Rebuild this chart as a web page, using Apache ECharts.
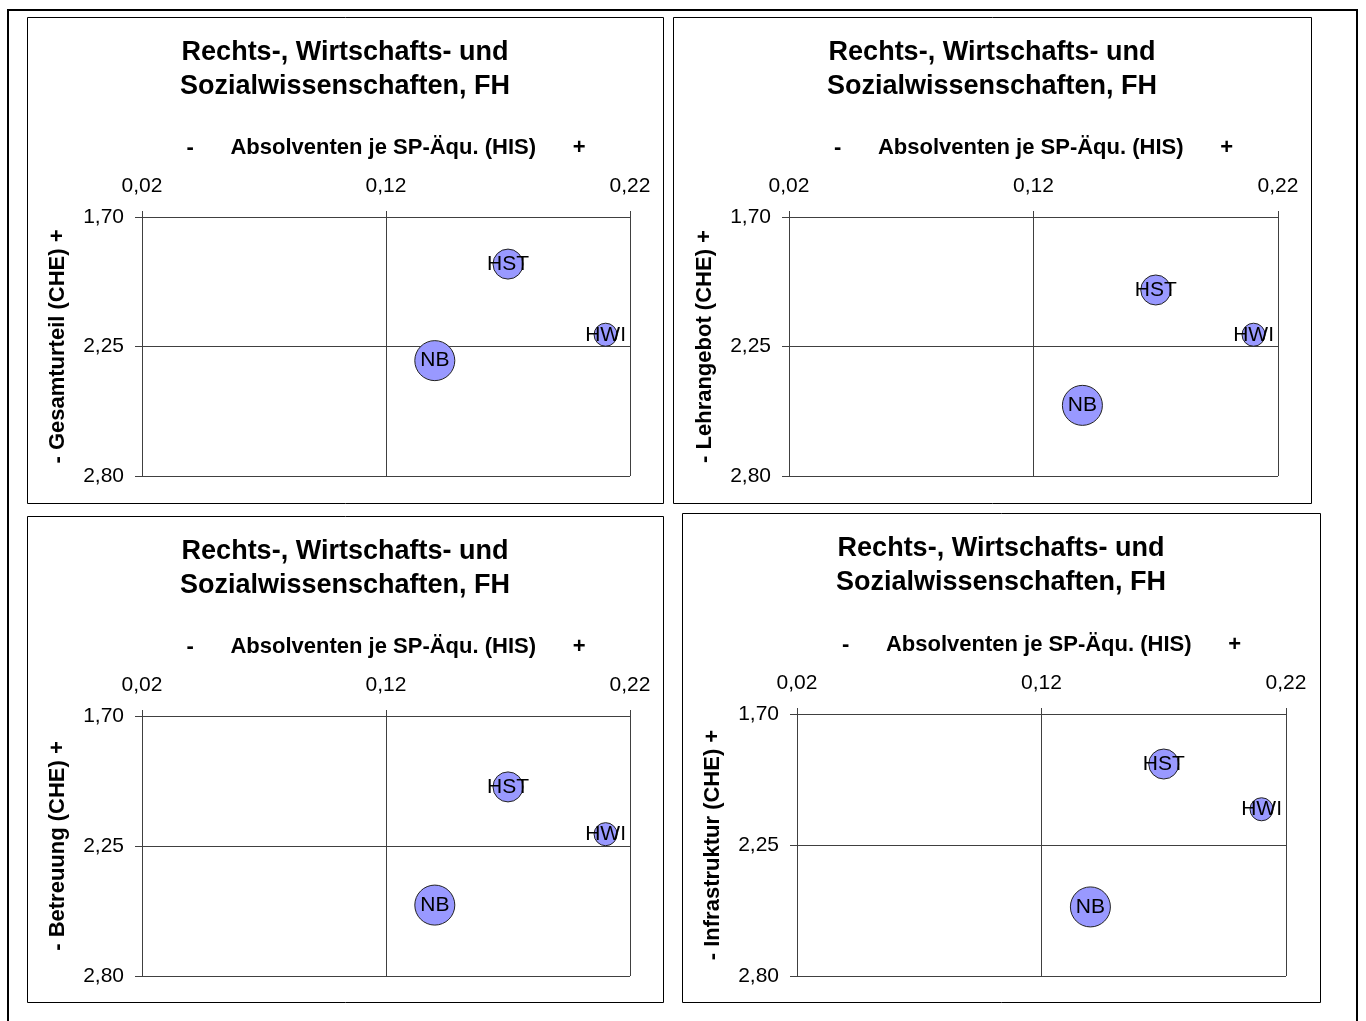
<!DOCTYPE html>
<html>
<head>
<meta charset="utf-8">
<script src="https://cdn.jsdelivr.net/npm/echarts@6/dist/echarts.min.js"></script>
<style>
html,body{margin:0;padding:0;background:#fff;}
#chart{width:1366px;height:1021px;}
</style>
</head>
<body>
<div id="chart"></div>
<script>
// ---- data ----
const categories = ['HST', 'HWI', 'NB'];
const xAbsolventen = [0.17, 0.21, 0.14];
const bubbleSizes = [9, 5.3, 16];
const yGesamturteil = [1.90, 2.20, 2.31];
const yLehrangebot = [2.01, 2.20, 2.50];
const yBetreuung = [2.00, 2.20, 2.50];
const yInfrastruktur = [1.91, 2.10, 2.51];
const xTicks = [0.02, 0.12, 0.22];
const yTicks = [1.70, 2.25, 2.80];
const panelTitle = 'Rechts-, Wirtschafts- und\nSozialwissenschaften, FH';
const xAxisName = '-      Absolventen je SP-Äqu. (HIS)      +';
const yAxisNames = ['- Gesamturteil (CHE) +', '- Lehrangebot (CHE) +', '- Betreuung (CHE) +', '- Infrastruktur (CHE) +'];
const yValueSets = [yGesamturteil, yLehrangebot, yBetreuung, yInfrastruktur];

// ---- layout ----
const FONT = '"Liberation Sans", Arial, sans-serif';
const grids = [
  {left: 142, top: 217, width: 488, height: 259},
  {left: 789, top: 217, width: 489, height: 259},
  {left: 142, top: 716, width: 488, height: 260},
  {left: 797, top: 714, width: 489, height: 262}
];
const panels = [
  {x: 27, y: 17, w: 636, h: 486, tx: 345, ty: 70},
  {x: 673, y: 17, w: 638, h: 486, tx: 992, ty: 70},
  {x: 27, y: 516, w: 636, h: 486, tx: 345, ty: 569},
  {x: 682, y: 513, w: 638, h: 489, tx: 1001, ty: 566}
];

const fmt = v => v.toFixed(2).replace('.', ',');
const lineColor = '#404040';

const xAxes = [], yAxes = [], series = [], graphics = [];

graphics.push({type: 'rect', shape: {x: 8, y: 10, width: 1349, height: 1030},
  style: {fill: null, stroke: '#000', lineWidth: 2}, silent: true});

panels.forEach((p, i) => {
  graphics.push({type: 'rect', shape: {x: p.x + 0.5, y: p.y + 0.5, width: p.w, height: p.h},
    style: {fill: null, stroke: '#000', lineWidth: 1}, silent: true});
  graphics.push({type: 'text', x: p.tx, y: p.ty, silent: true,
    style: {text: panelTitle, align: 'center', verticalAlign: 'middle', lineHeight: 34,
      font: 'bold 27px ' + FONT, fill: '#000'}});
});

grids.forEach((g, i) => {
  xAxes.push({
    type: 'value', gridIndex: i, position: 'top',
    min: xTicks[0], max: xTicks[2], interval: +(xTicks[1] - xTicks[0]).toFixed(2),
    name: xAxisName, nameLocation: 'middle', nameGap: 58,
    nameTextStyle: {fontFamily: FONT, fontWeight: 'bold', fontSize: 22, color: '#000'},
    axisLine: {show: true, lineStyle: {color: lineColor, width: 1}},
    axisTick: {show: true, length: 6, lineStyle: {color: lineColor}},
    axisLabel: {formatter: fmt, margin: 20, fontFamily: FONT, fontSize: 21, color: '#000'},
    splitLine: {show: true, lineStyle: {color: lineColor, width: 1}}
  });
  yAxes.push({
    type: 'value', gridIndex: i, inverse: true,
    min: yTicks[0], max: yTicks[2], interval: +(yTicks[1] - yTicks[0]).toFixed(2),
    name: yAxisNames[i], nameLocation: 'middle', nameGap: 73, nameRotate: 90,
    nameTextStyle: {fontFamily: FONT, fontWeight: 'bold', fontSize: 22, color: '#000'},
    axisLine: {show: true, lineStyle: {color: lineColor, width: 1}},
    axisTick: {show: true, length: 7, lineStyle: {color: lineColor}},
    axisLabel: {formatter: fmt, margin: 18, fontFamily: FONT, fontSize: 21, color: '#000'},
    splitLine: {show: true, lineStyle: {color: lineColor, width: 1}}
  });
  series.push({
    type: 'scatter', xAxisIndex: i, yAxisIndex: i,
    data: categories.map((c, k) => ({name: c, value: [xAbsolventen[k], yValueSets[i][k], bubbleSizes[k]]})),
    symbolSize: v => 10 * Math.sqrt(v[2]),
    itemStyle: {color: '#9999FF', borderColor: '#222', borderWidth: 1, opacity: 1},
    label: {show: true, position: 'inside', formatter: '{b}', color: '#000',
      fontFamily: FONT, fontSize: 21},
    emphasis: {disabled: true},
    z: 3
  });
});

const chart = echarts.init(document.getElementById('chart'), null, {renderer: 'canvas'});
chart.setOption({
  animation: false,
  backgroundColor: '#fff',
  grid: grids.map(g => Object.assign({containLabel: false}, g)),
  xAxis: xAxes,
  yAxis: yAxes,
  series: series,
  graphic: graphics
});
</script>
</body>
</html>
